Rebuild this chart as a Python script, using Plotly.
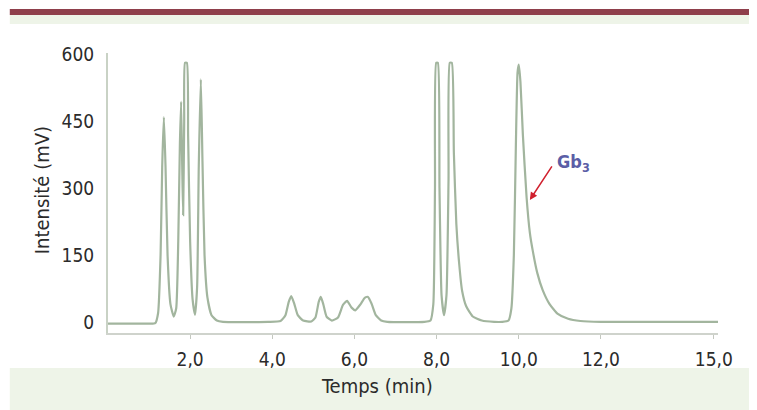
import plotly.graph_objects as go

# Chromatogram: time (min) and intensity (mV)
time_min = [
    0.0, 1.0, 1.15, 1.22, 1.28, 1.32, 1.36, 1.40, 1.45, 1.52, 1.60,
    1.66, 1.71, 1.75, 1.78, 1.81, 1.83, 1.855, 1.875, 1.92, 1.95, 2.0,
    2.06, 2.12, 2.17, 2.21, 2.26, 2.30, 2.35, 2.42, 2.52, 2.65, 2.8,
    3.9, 4.2, 4.32, 4.40, 4.46, 4.53, 4.62, 4.75, 4.95, 5.05, 5.13,
    5.18, 5.24, 5.32, 5.45, 5.6, 5.72, 5.82, 5.93, 6.02, 6.15, 6.25,
    6.33, 6.42, 6.52, 6.65, 6.8,
    7.7, 7.85, 7.92, 7.96, 7.99, 8.03, 8.07, 8.12, 8.18, 8.24, 8.29,
    8.32, 8.37, 8.42, 8.48, 8.55, 8.62, 8.72, 8.88, 9.1, 9.4,
    9.6, 9.75, 9.82, 9.88, 9.93, 9.97, 10.0, 10.04, 10.1, 10.19, 10.27,
    10.34, 10.45, 10.58, 10.75, 10.95, 11.2, 11.5, 12.0, 14.85,
]
intensity_mv = [
    -4, -4, -3, 20, 150, 350, 460, 350, 150, 40, 12,
    30, 180, 400, 495, 330, 240, 450, 582, 582, 420, 180,
    50, 16, 80, 350, 545, 360, 150, 55, 15, 3, 0,
    0, 2, 15, 45, 58, 42, 15, 3, 1, 10, 45,
    56, 40, 12, 3, 10, 38, 47, 32, 26, 40, 54,
    56, 40, 15, 3, 0,
    0, 3, 40, 300, 582, 582, 300, 60, 15, 60, 320,
    582, 582, 380, 220, 130, 70, 35, 12, 3, 0,
    0, 3, 30, 150, 400, 560, 578, 540, 420, 280, 200,
    160, 110, 72, 40, 18, 7, 2, 0, 0,
]

x_tick_vals = [2, 4, 6, 8, 10, 12, 14.75]
x_tick_text = ["2,0", "4,0", "6,0", "8,0", "10,0", "12,0", "15,0"]
y_tick_vals = [0, 150, 300, 450, 600]
y_tick_text = ["0", "150", "300", "450", "600"]

peak_label = "Gb<sub>3</sub>"
peak_time = 10.27
peak_value = 274

FONT = "DejaVu Sans Condensed, Roboto Condensed, Liberation Sans Narrow, Roboto, sans-serif"

fig = go.Figure()
fig.add_trace(go.Scatter(
    x=time_min, y=intensity_mv, mode="lines",
    line=dict(color="#a2b59e", width=2.2, shape="spline", smoothing=0.5),
    hoverinfo="skip", showlegend=False,
))

fig.update_layout(
    width=749, height=402,
    margin=dict(l=100, r=39, t=45, b=77),
    paper_bgcolor="#ffffff", plot_bgcolor="#ffffff",
    font=dict(family=FONT, size=19, color="#2b2b2b"),
    xaxis=dict(
        range=[0, 14.85], tickvals=x_tick_vals, ticktext=x_tick_text,
        showgrid=False, zeroline=False, showline=True,
        linecolor="#cfd3cc", linewidth=2,
        ticks="outside", ticklen=4, tickcolor="#c4c8c0", tickwidth=1,
        ticklabelstandoff=4,
    ),
    yaxis=dict(
        range=[-25, 604], tickvals=y_tick_vals, ticktext=y_tick_text,
        showgrid=False, zeroline=False, showline=True,
        linecolor="#c9d2c5", linewidth=2,
        ticks="outside", ticklen=6, tickcolor="rgba(0,0,0,0)",
        ticklabelstandoff=2,
    ),
    shapes=[
        dict(type="rect", xref="paper", yref="paper", x0=-0.161, x1=1.07,
             y0=1.136, y1=1.157, fillcolor="#8f3f4b", line=dict(width=0), layer="below"),
        dict(type="rect", xref="paper", yref="paper", x0=-0.161, x1=1.07,
             y0=1.104, y1=1.136, fillcolor="#eef4e8", line=dict(width=0), layer="below"),
        dict(type="rect", xref="paper", yref="paper", x0=-0.161, x1=1.07,
             y0=-0.28, y1=-0.125, fillcolor="#eef4e8", line=dict(width=0), layer="below"),
    ],
    annotations=[
        dict(text="Temps (min)", xref="paper", yref="paper", x=0.441, y=-0.189,
             showarrow=False, font=dict(family=FONT, size=20, color="#2b2b2b"),
             xanchor="center", yanchor="middle"),
        dict(text="Intensité (mV)", xref="paper", yref="paper", x=-0.108, y=0.51,
             textangle=-90, showarrow=False,
             font=dict(family=FONT, size=20, color="#2b2b2b"),
             xanchor="center", yanchor="middle"),
        dict(text="<b>" + peak_label + "</b>", x=11.32, y=357, xref="x", yref="y",
             showarrow=False, font=dict(family=FONT, size=18, color="#5b5ea6"),
             xanchor="center", yanchor="middle"),
        dict(text="", x=peak_time, y=peak_value, xref="x", yref="y",
             showarrow=True, ax=23, ay=-35, arrowhead=2, arrowsize=1,
             arrowwidth=1.5, arrowcolor="#d0202e"),
    ],
)

fig.write_html("out.html")
